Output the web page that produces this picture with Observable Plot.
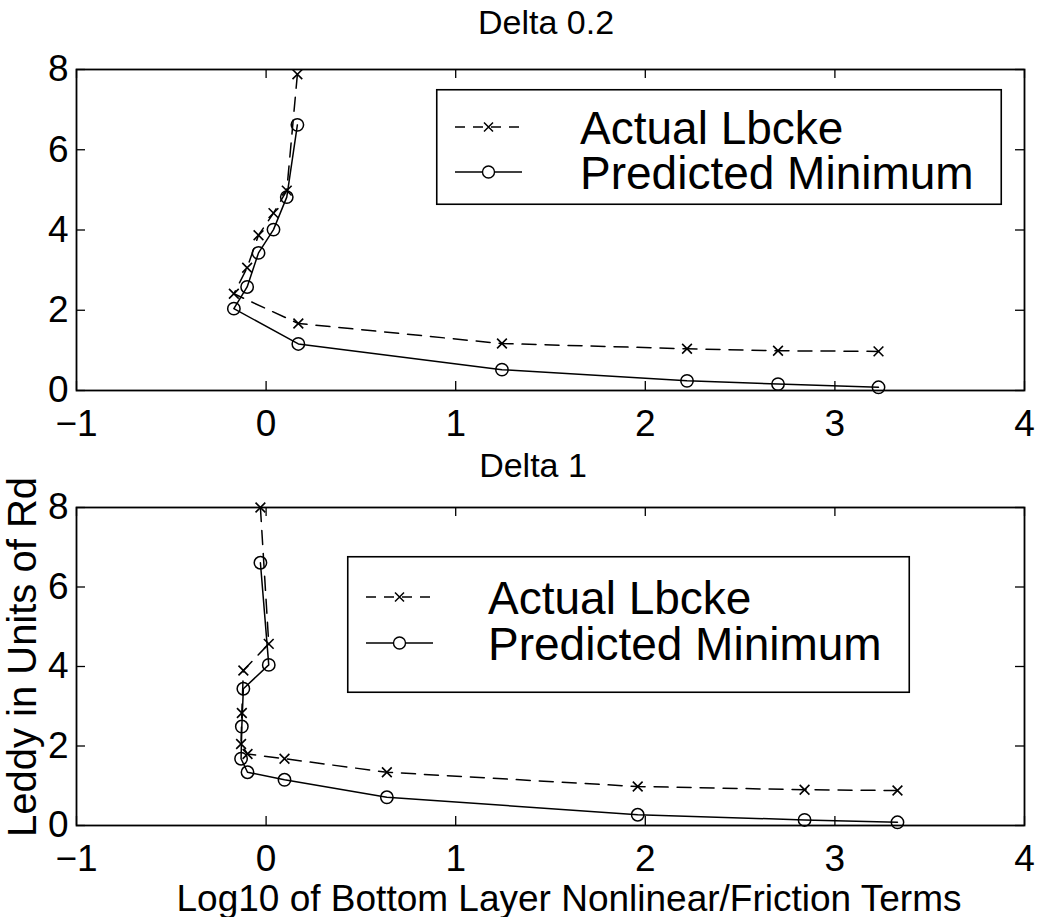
<!DOCTYPE html>
<html>
<head>
<meta charset="utf-8">
<script src="https://cdn.jsdelivr.net/npm/d3@7"></script>
<script src="https://cdn.jsdelivr.net/npm/@observablehq/plot@0.6"></script>
<style>
  html, body { margin: 0; padding: 0; background: #fff; }
  #wrap { position: relative; width: 1037px; height: 917px; background: #fff;
          font-family: "Liberation Sans", Arial, Helvetica, sans-serif; color: #000; overflow: hidden; }
  .abs { position: absolute; white-space: nowrap; line-height: 1; }
  .title { font-size: 34px; transform: translate(-50%, -50%); }
  .xlabel { font-size: 37px; transform: translate(-50%, -50%); }
  .ylabel { font-size: 40px; transform: translate(-50%, -50%) rotate(-90deg); }
</style>
</head>
<body>
<div id="wrap">
  <div id="topPlot" class="abs" style="left:0;top:0"></div>
  <div id="botPlot" class="abs" style="left:0;top:440px"></div>
</div>
<script>
// ---------------- data ----------------
const titles = ["Delta 0.2", "Delta 1"];
const seriesNames = ["Actual Lbcke", "Predicted Minimum"];
const xLabel = "Log10 of Bottom Layer Nonlinear/Friction Terms";
const yLabel = "Leddy in Units of Rd";
const xTicks = [-1, 0, 1, 2, 3, 4];
const yTicks = [0, 2, 4, 6, 8];

// Delta 0.2 panel
const delta02X      = [0.165, 0.109, 0.039, -0.04, -0.10, -0.17, 0.17, 1.244, 2.22, 2.70, 3.23];
const delta02Actual = [7.88, 4.98, 4.42, 3.87, 3.06, 2.41, 1.67, 1.17, 1.04, 0.99, 0.975];
const delta02Pred   = [6.62, 4.82, 4.01, 3.43, 2.58, 2.04, 1.16, 0.52, 0.24, 0.16, 0.08];

// Delta 1 panel
const delta1X      = [-0.03, 0.014, -0.12, -0.128, -0.132, -0.098, 0.097, 0.637, 1.96, 2.84, 3.33];
const delta1Actual = [8.0, 4.57, 3.9, 2.83, 2.05, 1.80, 1.68, 1.34, 0.98, 0.90, 0.88];
const delta1Pred   = [6.61, 4.04, 3.44, 2.49, 1.68, 1.34, 1.15, 0.71, 0.27, 0.14, 0.08];

// ---------------- build ----------------
const FONT = "Liberation Sans, Arial, Helvetica, sans-serif";
const W = 1037;
const DASH = "14,9";

function toRows(xs, ys) { return xs.map((x, i) => ({x, y: ys[i]})); }

function panel({xs, actual, pred, height, marginTop, marginBottom}) {
  const mL = 76, mR = 13;
  const fh = height - marginTop - marginBottom;
  const fw = W - mL - mR;
  const tl = 9;
  const a = toRows(xs, actual), p = toRows(xs, pred);
  return Plot.plot({
    width: W, height,
    marginLeft: mL, marginRight: mR, marginTop, marginBottom,
    style: {fontFamily: FONT, fontSize: "37px", color: "#000", background: "#fff", overflow: "visible"},
    x: {domain: [-1, 4]},
    y: {domain: [0, 8]},
    marks: [
      Plot.axisX({ticks: xTicks, tickSize: 0, tickPadding: 19, label: null, tickFormat: d => d < 0 ? "\u2212" + Math.abs(d) : String(d)}),
      Plot.axisY({ticks: yTicks, tickSize: 0, tickPadding: 8, label: null}),
      Plot.tickX(xTicks, {x: d => d, insetTop: fh - tl, stroke: "#000", strokeWidth: 1.3}),
      Plot.tickX(xTicks, {x: d => d, insetBottom: fh - tl, stroke: "#000", strokeWidth: 1.3}),
      Plot.tickY(yTicks, {y: d => d, insetRight: fw - tl, stroke: "#000", strokeWidth: 1.3}),
      Plot.tickY(yTicks, {y: d => d, insetLeft: fw - tl, stroke: "#000", strokeWidth: 1.3}),
      Plot.line(a, {x: "x", y: "y", stroke: "#000", strokeWidth: 1.5, strokeDasharray: DASH}),
      Plot.line(p, {x: "x", y: "y", stroke: "#000", strokeWidth: 1.5}),
      Plot.dot(a, {x: "x", y: "y", symbol: "times", r: 4.5, stroke: "#000", strokeWidth: 1.6}),
      Plot.dot(p, {x: "x", y: "y", symbol: "circle", r: 6.2, stroke: "#000", fill: "none", strokeWidth: 1.5}),
      Plot.frame({stroke: "#000", strokeWidth: 1.8})
    ]
  });
}

document.getElementById("topPlot").appendChild(panel({
  xs: delta02X, actual: delta02Actual, pred: delta02Pred,
  height: 440, marginTop: 69, marginBottom: 50
}));
document.getElementById("botPlot").appendChild(panel({
  xs: delta1X, actual: delta1Actual, pred: delta1Pred,
  height: 477, marginTop: 67, marginBottom: 92
}));

const wrap = document.getElementById("wrap");
function addText(cls, text, x, y) {
  const d = document.createElement("div");
  d.className = "abs " + cls;
  d.style.left = x + "px"; d.style.top = y + "px";
  d.textContent = text;
  wrap.appendChild(d);
}
addText("title", titles[0], 546, 22);
addText("title", titles[1], 533, 465);
addText("xlabel", xLabel, 569, 898);
addText("ylabel", yLabel, 22, 657);

// legends
function legend({left, top, width, height, rowY, sample, textX}) {
  const svg = d3.create("svg")
    .attr("width", width).attr("height", height)
    .style("position", "absolute").style("left", left + "px").style("top", top + "px")
    .style("overflow", "visible");
  svg.append("rect").attr("x", 0.75).attr("y", 0.75).attr("width", width - 1.5).attr("height", height - 1.5)
    .attr("fill", "#fff").attr("stroke", "#000").attr("stroke-width", 1.6);
  const [x1, x2] = sample;
  const xm = (x1 + x2) / 2;
  // row 1: dashed + times
  svg.append("line").attr("x1", x1).attr("x2", x2).attr("y1", rowY[0]).attr("y2", rowY[0])
    .attr("stroke", "#000").attr("stroke-width", 1.4).attr("stroke-dasharray", "10,8");
  const s = 4.5;
  svg.append("path").attr("d", `M${xm - s},${rowY[0] - s}L${xm + s},${rowY[0] + s}M${xm - s},${rowY[0] + s}L${xm + s},${rowY[0] - s}`)
    .attr("stroke", "#000").attr("stroke-width", 1.5);
  // row 2: solid + circle
  svg.append("line").attr("x1", x1).attr("x2", x2).attr("y1", rowY[1]).attr("y2", rowY[1])
    .attr("stroke", "#000").attr("stroke-width", 1.4);
  svg.append("circle").attr("cx", xm).attr("cy", rowY[1]).attr("r", 6)
    .attr("fill", "#fff").attr("stroke", "#000").attr("stroke-width", 1.4);
  seriesNames.forEach((name, i) => {
    svg.append("text").attr("x", textX).attr("y", rowY[i]).attr("dy", "0.36em")
      .attr("font-family", FONT).attr("font-size", 46).attr("fill", "#000").text(name);
  });
  wrap.appendChild(svg.node());
}
legend({left: 436, top: 89, width: 566, height: 116, rowY: [38, 83], sample: [19, 86], textX: 144});
legend({left: 347, top: 556, width: 563, height: 137, rowY: [41, 87], sample: [19, 86], textX: 141});
</script>
</body>
</html>
